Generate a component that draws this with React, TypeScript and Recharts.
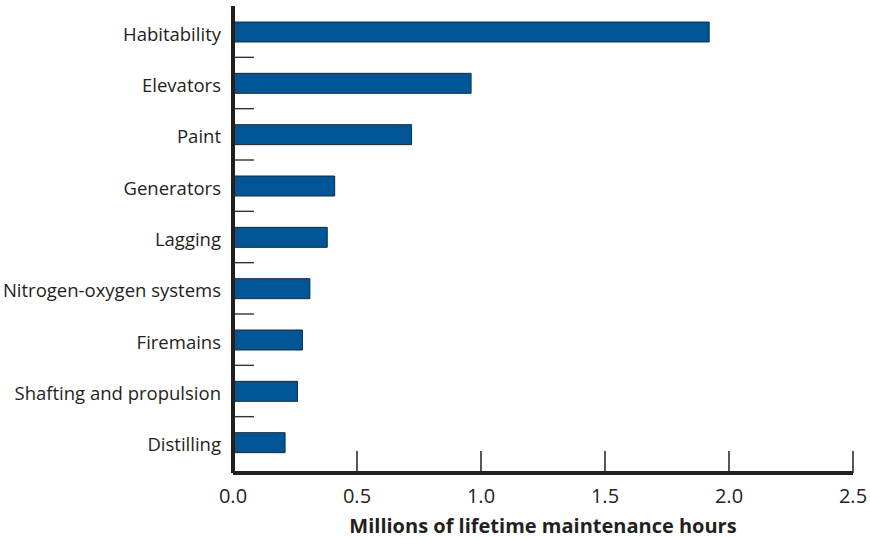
import React from "react";
import { BarChart, Bar, XAxis, YAxis } from "recharts";

const categories = [
  "Habitability",
  "Elevators",
  "Paint",
  "Generators",
  "Lagging",
  "Nitrogen-oxygen systems",
  "Firemains",
  "Shafting and propulsion",
  "Distilling",
];
const hours = [1.92, 0.96, 0.72, 0.41, 0.38, 0.31, 0.28, 0.26, 0.21];
const xTicks = [0, 0.5, 1, 1.5, 2, 2.5];

const data = categories.map((name, i) => ({ name, hours: hours[i] }));

const W = 870;
const H = 540;
const TOP = 6;
const X_AXIS_H = 67;
const PAD_BOTTOM = 5;
const BAND = (H - TOP - X_AXIS_H - PAD_BOTTOM) / categories.length;
const FONT = "'Open Sans', 'Noto Sans', sans-serif";
const INK = "#231f20";

function CategoryTick(props: any) {
  const { x, y, payload, index } = props;
  const axisX = x + 12;
  return (
    <g>
      <text
        x={x}
        y={y + 1.5}
        textAnchor="end"
        dominantBaseline="central"
        fontSize={18.5}
        fontFamily={FONT}
        fill={INK}
      >
        {payload.value}
      </text>
      {index > 0 && (
        <line
          x1={axisX + 2}
          x2={axisX + 21}
          y1={y - BAND / 2}
          y2={y - BAND / 2}
          stroke="#333"
          strokeWidth={1.4}
        />
      )}
    </g>
  );
}

export default function App() {
  return (
    <div style={{ position: "absolute", left: 0, top: 0, background: "#fff" }}>
      <BarChart
        width={W}
        height={H}
        data={data}
        layout="vertical"
        margin={{ top: TOP, right: 17, left: 0, bottom: 0 }}
        barSize={20}
      >
        <XAxis
          type="number"
          domain={[0, 2.5]}
          ticks={xTicks}
          tickFormatter={(v: number) => v.toFixed(1)}
          height={X_AXIS_H}
          axisLine={{ stroke: INK, strokeWidth: 4 }}
          tickLine={{ stroke: INK, strokeWidth: 1.5 }}
          tickSize={-22}
          tickMargin={37.5}
          tick={{ fontSize: 20, fontFamily: FONT, fill: INK }}
          interval={0}
          label={{
            value: "Millions of lifetime maintenance hours",
            position: "insideBottom",
            offset: 7,
            style: { fontSize: 20, fontWeight: 700, fontFamily: FONT, fill: INK },
          }}
        />
        <XAxis
          xAxisId="top"
          orientation="top"
          type="number"
          domain={[0, 2.5]}
          height={0}
          tick={false}
          tickLine={false}
          axisLine={{ stroke: "#777", strokeWidth: 1.5 }}
        />
        <YAxis
          type="category"
          dataKey="name"
          width={233}
          padding={{ top: 0, bottom: PAD_BOTTOM }}
          axisLine={{ stroke: INK, strokeWidth: 4 }}
          tickLine={false}
          tickSize={0}
          tickMargin={12}
          interval={0}
          tick={<CategoryTick />}
        />
        <YAxis
          yAxisId="right"
          orientation="right"
          type="category"
          dataKey="name"
          width={0}
          tick={false}
          tickLine={false}
          axisLine={{ stroke: "#777", strokeWidth: 1.5 }}
        />
        <Bar
          dataKey="hours"
          fill="#005596"
          stroke="#1f2a36"
          strokeWidth={1}
          isAnimationActive={false}
        />
      </BarChart>
    </div>
  );
}
